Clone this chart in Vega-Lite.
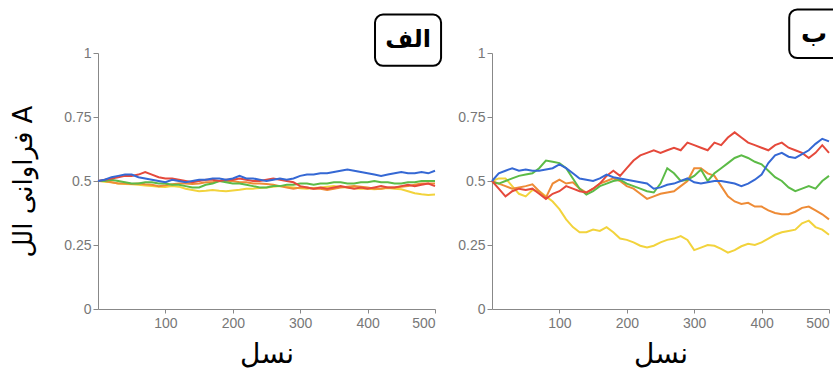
{
"$schema": "https://vega.github.io/schema/vega-lite/v6.json",
"padding": {"left": 10, "top": 8, "right": 0, "bottom": 0},
"spacing": 14,
"config": {
  "view": {"stroke": null},
  "axis": {"grid": false, "labelColor": "#777777", "labelFontSize": 14, "labelFont": "Liberation Sans", "domainColor": "#888888", "tickColor": "#888888", "tickSize": 5, "titleColor": "#000000", "titleFont": "DejaVu Sans", "titleFontWeight": "normal", "titleFontSize": 26}
},
"datasets": {
"left": [
{"run":"yellow","gen":0,"freq":0.5},{"run":"yellow","gen":10,"freq":0.497},{"run":"yellow","gen":20,"freq":0.495},{"run":"yellow","gen":30,"freq":0.49},{"run":"yellow","gen":40,"freq":0.488},{"run":"yellow","gen":50,"freq":0.487},{"run":"yellow","gen":60,"freq":0.485},{"run":"yellow","gen":70,"freq":0.482},{"run":"yellow","gen":80,"freq":0.48},{"run":"yellow","gen":90,"freq":0.478},{"run":"yellow","gen":100,"freq":0.477},{"run":"yellow","gen":110,"freq":0.48},{"run":"yellow","gen":120,"freq":0.478},{"run":"yellow","gen":130,"freq":0.47},{"run":"yellow","gen":140,"freq":0.465},{"run":"yellow","gen":150,"freq":0.46},{"run":"yellow","gen":160,"freq":0.462},{"run":"yellow","gen":170,"freq":0.465},{"run":"yellow","gen":180,"freq":0.462},{"run":"yellow","gen":190,"freq":0.46},{"run":"yellow","gen":200,"freq":0.463},{"run":"yellow","gen":210,"freq":0.466},{"run":"yellow","gen":220,"freq":0.47},{"run":"yellow","gen":230,"freq":0.47},{"run":"yellow","gen":240,"freq":0.473},{"run":"yellow","gen":250,"freq":0.475},{"run":"yellow","gen":260,"freq":0.478},{"run":"yellow","gen":270,"freq":0.48},{"run":"yellow","gen":280,"freq":0.478},{"run":"yellow","gen":290,"freq":0.475},{"run":"yellow","gen":300,"freq":0.472},{"run":"yellow","gen":310,"freq":0.47},{"run":"yellow","gen":320,"freq":0.473},{"run":"yellow","gen":330,"freq":0.475},{"run":"yellow","gen":340,"freq":0.478},{"run":"yellow","gen":350,"freq":0.48},{"run":"yellow","gen":360,"freq":0.477},{"run":"yellow","gen":370,"freq":0.475},{"run":"yellow","gen":380,"freq":0.472},{"run":"yellow","gen":390,"freq":0.47},{"run":"yellow","gen":400,"freq":0.47},{"run":"yellow","gen":410,"freq":0.468},{"run":"yellow","gen":420,"freq":0.47},{"run":"yellow","gen":430,"freq":0.473},{"run":"yellow","gen":440,"freq":0.47},{"run":"yellow","gen":450,"freq":0.468},{"run":"yellow","gen":460,"freq":0.46},{"run":"yellow","gen":470,"freq":0.452},{"run":"yellow","gen":480,"freq":0.448},{"run":"yellow","gen":490,"freq":0.445},{"run":"yellow","gen":500,"freq":0.447},
{"run":"orange","gen":0,"freq":0.5},{"run":"orange","gen":10,"freq":0.5},{"run":"orange","gen":20,"freq":0.495},{"run":"orange","gen":30,"freq":0.49},{"run":"orange","gen":40,"freq":0.49},{"run":"orange","gen":50,"freq":0.488},{"run":"orange","gen":60,"freq":0.49},{"run":"orange","gen":70,"freq":0.487},{"run":"orange","gen":80,"freq":0.485},{"run":"orange","gen":90,"freq":0.48},{"run":"orange","gen":100,"freq":0.483},{"run":"orange","gen":110,"freq":0.487},{"run":"orange","gen":120,"freq":0.49},{"run":"orange","gen":130,"freq":0.49},{"run":"orange","gen":140,"freq":0.488},{"run":"orange","gen":150,"freq":0.49},{"run":"orange","gen":160,"freq":0.495},{"run":"orange","gen":170,"freq":0.495},{"run":"orange","gen":180,"freq":0.5},{"run":"orange","gen":190,"freq":0.5},{"run":"orange","gen":200,"freq":0.5},{"run":"orange","gen":210,"freq":0.495},{"run":"orange","gen":220,"freq":0.495},{"run":"orange","gen":230,"freq":0.49},{"run":"orange","gen":240,"freq":0.49},{"run":"orange","gen":250,"freq":0.488},{"run":"orange","gen":260,"freq":0.485},{"run":"orange","gen":270,"freq":0.48},{"run":"orange","gen":280,"freq":0.475},{"run":"orange","gen":290,"freq":0.47},{"run":"orange","gen":300,"freq":0.475},{"run":"orange","gen":310,"freq":0.475},{"run":"orange","gen":320,"freq":0.47},{"run":"orange","gen":330,"freq":0.47},{"run":"orange","gen":340,"freq":0.465},{"run":"orange","gen":350,"freq":0.47},{"run":"orange","gen":360,"freq":0.475},{"run":"orange","gen":370,"freq":0.478},{"run":"orange","gen":380,"freq":0.48},{"run":"orange","gen":390,"freq":0.478},{"run":"orange","gen":400,"freq":0.475},{"run":"orange","gen":410,"freq":0.47},{"run":"orange","gen":420,"freq":0.47},{"run":"orange","gen":430,"freq":0.475},{"run":"orange","gen":440,"freq":0.475},{"run":"orange","gen":450,"freq":0.478},{"run":"orange","gen":460,"freq":0.48},{"run":"orange","gen":470,"freq":0.485},{"run":"orange","gen":480,"freq":0.49},{"run":"orange","gen":490,"freq":0.49},{"run":"orange","gen":500,"freq":0.49},
{"run":"green","gen":0,"freq":0.5},{"run":"green","gen":10,"freq":0.5},{"run":"green","gen":20,"freq":0.505},{"run":"green","gen":30,"freq":0.5},{"run":"green","gen":40,"freq":0.495},{"run":"green","gen":50,"freq":0.49},{"run":"green","gen":60,"freq":0.49},{"run":"green","gen":70,"freq":0.495},{"run":"green","gen":80,"freq":0.495},{"run":"green","gen":90,"freq":0.49},{"run":"green","gen":100,"freq":0.49},{"run":"green","gen":110,"freq":0.485},{"run":"green","gen":120,"freq":0.485},{"run":"green","gen":130,"freq":0.48},{"run":"green","gen":140,"freq":0.475},{"run":"green","gen":150,"freq":0.475},{"run":"green","gen":160,"freq":0.485},{"run":"green","gen":170,"freq":0.49},{"run":"green","gen":180,"freq":0.5},{"run":"green","gen":190,"freq":0.495},{"run":"green","gen":200,"freq":0.49},{"run":"green","gen":210,"freq":0.49},{"run":"green","gen":220,"freq":0.485},{"run":"green","gen":230,"freq":0.48},{"run":"green","gen":240,"freq":0.475},{"run":"green","gen":250,"freq":0.475},{"run":"green","gen":260,"freq":0.48},{"run":"green","gen":270,"freq":0.48},{"run":"green","gen":280,"freq":0.485},{"run":"green","gen":290,"freq":0.485},{"run":"green","gen":300,"freq":0.49},{"run":"green","gen":310,"freq":0.49},{"run":"green","gen":320,"freq":0.485},{"run":"green","gen":330,"freq":0.49},{"run":"green","gen":340,"freq":0.49},{"run":"green","gen":350,"freq":0.495},{"run":"green","gen":360,"freq":0.495},{"run":"green","gen":370,"freq":0.49},{"run":"green","gen":380,"freq":0.49},{"run":"green","gen":390,"freq":0.495},{"run":"green","gen":400,"freq":0.495},{"run":"green","gen":410,"freq":0.5},{"run":"green","gen":420,"freq":0.495},{"run":"green","gen":430,"freq":0.495},{"run":"green","gen":440,"freq":0.49},{"run":"green","gen":450,"freq":0.49},{"run":"green","gen":460,"freq":0.495},{"run":"green","gen":470,"freq":0.495},{"run":"green","gen":480,"freq":0.5},{"run":"green","gen":490,"freq":0.5},{"run":"green","gen":500,"freq":0.5},
{"run":"red","gen":0,"freq":0.5},{"run":"red","gen":10,"freq":0.505},{"run":"red","gen":20,"freq":0.51},{"run":"red","gen":30,"freq":0.515},{"run":"red","gen":40,"freq":0.52},{"run":"red","gen":50,"freq":0.52},{"run":"red","gen":60,"freq":0.525},{"run":"red","gen":70,"freq":0.535},{"run":"red","gen":80,"freq":0.525},{"run":"red","gen":90,"freq":0.515},{"run":"red","gen":100,"freq":0.51},{"run":"red","gen":110,"freq":0.51},{"run":"red","gen":120,"freq":0.505},{"run":"red","gen":130,"freq":0.5},{"run":"red","gen":140,"freq":0.495},{"run":"red","gen":150,"freq":0.5},{"run":"red","gen":160,"freq":0.505},{"run":"red","gen":170,"freq":0.505},{"run":"red","gen":180,"freq":0.5},{"run":"red","gen":190,"freq":0.505},{"run":"red","gen":200,"freq":0.505},{"run":"red","gen":210,"freq":0.51},{"run":"red","gen":220,"freq":0.505},{"run":"red","gen":230,"freq":0.5},{"run":"red","gen":240,"freq":0.5},{"run":"red","gen":250,"freq":0.505},{"run":"red","gen":260,"freq":0.51},{"run":"red","gen":270,"freq":0.505},{"run":"red","gen":280,"freq":0.5},{"run":"red","gen":290,"freq":0.495},{"run":"red","gen":300,"freq":0.48},{"run":"red","gen":310,"freq":0.475},{"run":"red","gen":320,"freq":0.47},{"run":"red","gen":330,"freq":0.475},{"run":"red","gen":340,"freq":0.47},{"run":"red","gen":350,"freq":0.475},{"run":"red","gen":360,"freq":0.48},{"run":"red","gen":370,"freq":0.475},{"run":"red","gen":380,"freq":0.47},{"run":"red","gen":390,"freq":0.475},{"run":"red","gen":400,"freq":0.47},{"run":"red","gen":410,"freq":0.475},{"run":"red","gen":420,"freq":0.48},{"run":"red","gen":430,"freq":0.475},{"run":"red","gen":440,"freq":0.475},{"run":"red","gen":450,"freq":0.48},{"run":"red","gen":460,"freq":0.485},{"run":"red","gen":470,"freq":0.48},{"run":"red","gen":480,"freq":0.485},{"run":"red","gen":490,"freq":0.49},{"run":"red","gen":500,"freq":0.48},
{"run":"blue","gen":0,"freq":0.5},{"run":"blue","gen":10,"freq":0.505},{"run":"blue","gen":20,"freq":0.515},{"run":"blue","gen":30,"freq":0.52},{"run":"blue","gen":40,"freq":0.525},{"run":"blue","gen":50,"freq":0.525},{"run":"blue","gen":60,"freq":0.515},{"run":"blue","gen":70,"freq":0.51},{"run":"blue","gen":80,"freq":0.505},{"run":"blue","gen":90,"freq":0.5},{"run":"blue","gen":100,"freq":0.495},{"run":"blue","gen":110,"freq":0.505},{"run":"blue","gen":120,"freq":0.5},{"run":"blue","gen":130,"freq":0.495},{"run":"blue","gen":140,"freq":0.5},{"run":"blue","gen":150,"freq":0.505},{"run":"blue","gen":160,"freq":0.505},{"run":"blue","gen":170,"freq":0.51},{"run":"blue","gen":180,"freq":0.51},{"run":"blue","gen":190,"freq":0.505},{"run":"blue","gen":200,"freq":0.51},{"run":"blue","gen":210,"freq":0.52},{"run":"blue","gen":220,"freq":0.51},{"run":"blue","gen":230,"freq":0.51},{"run":"blue","gen":240,"freq":0.505},{"run":"blue","gen":250,"freq":0.5},{"run":"blue","gen":260,"freq":0.505},{"run":"blue","gen":270,"freq":0.51},{"run":"blue","gen":280,"freq":0.505},{"run":"blue","gen":290,"freq":0.51},{"run":"blue","gen":300,"freq":0.52},{"run":"blue","gen":310,"freq":0.525},{"run":"blue","gen":320,"freq":0.525},{"run":"blue","gen":330,"freq":0.53},{"run":"blue","gen":340,"freq":0.53},{"run":"blue","gen":350,"freq":0.535},{"run":"blue","gen":360,"freq":0.54},{"run":"blue","gen":370,"freq":0.545},{"run":"blue","gen":380,"freq":0.54},{"run":"blue","gen":390,"freq":0.535},{"run":"blue","gen":400,"freq":0.53},{"run":"blue","gen":410,"freq":0.525},{"run":"blue","gen":420,"freq":0.52},{"run":"blue","gen":430,"freq":0.525},{"run":"blue","gen":440,"freq":0.53},{"run":"blue","gen":450,"freq":0.535},{"run":"blue","gen":460,"freq":0.53},{"run":"blue","gen":470,"freq":0.53},{"run":"blue","gen":480,"freq":0.535},{"run":"blue","gen":490,"freq":0.53},{"run":"blue","gen":500,"freq":0.54}
],
"right": [
{"run":"yellow","gen":0,"freq":0.5},{"run":"yellow","gen":10,"freq":0.51},{"run":"yellow","gen":20,"freq":0.51},{"run":"yellow","gen":30,"freq":0.48},{"run":"yellow","gen":40,"freq":0.45},{"run":"yellow","gen":50,"freq":0.44},{"run":"yellow","gen":60,"freq":0.465},{"run":"yellow","gen":70,"freq":0.46},{"run":"yellow","gen":80,"freq":0.44},{"run":"yellow","gen":90,"freq":0.42},{"run":"yellow","gen":100,"freq":0.39},{"run":"yellow","gen":110,"freq":0.35},{"run":"yellow","gen":120,"freq":0.32},{"run":"yellow","gen":130,"freq":0.3},{"run":"yellow","gen":140,"freq":0.3},{"run":"yellow","gen":150,"freq":0.31},{"run":"yellow","gen":160,"freq":0.305},{"run":"yellow","gen":170,"freq":0.32},{"run":"yellow","gen":180,"freq":0.3},{"run":"yellow","gen":190,"freq":0.275},{"run":"yellow","gen":200,"freq":0.27},{"run":"yellow","gen":210,"freq":0.26},{"run":"yellow","gen":220,"freq":0.247},{"run":"yellow","gen":230,"freq":0.24},{"run":"yellow","gen":240,"freq":0.247},{"run":"yellow","gen":250,"freq":0.26},{"run":"yellow","gen":260,"freq":0.27},{"run":"yellow","gen":270,"freq":0.275},{"run":"yellow","gen":280,"freq":0.285},{"run":"yellow","gen":290,"freq":0.27},{"run":"yellow","gen":300,"freq":0.23},{"run":"yellow","gen":310,"freq":0.24},{"run":"yellow","gen":320,"freq":0.25},{"run":"yellow","gen":330,"freq":0.247},{"run":"yellow","gen":340,"freq":0.235},{"run":"yellow","gen":350,"freq":0.22},{"run":"yellow","gen":360,"freq":0.23},{"run":"yellow","gen":370,"freq":0.245},{"run":"yellow","gen":380,"freq":0.255},{"run":"yellow","gen":390,"freq":0.25},{"run":"yellow","gen":400,"freq":0.26},{"run":"yellow","gen":410,"freq":0.275},{"run":"yellow","gen":420,"freq":0.29},{"run":"yellow","gen":430,"freq":0.3},{"run":"yellow","gen":440,"freq":0.305},{"run":"yellow","gen":450,"freq":0.31},{"run":"yellow","gen":460,"freq":0.335},{"run":"yellow","gen":470,"freq":0.345},{"run":"yellow","gen":480,"freq":0.32},{"run":"yellow","gen":490,"freq":0.31},{"run":"yellow","gen":500,"freq":0.29},
{"run":"orange","gen":0,"freq":0.5},{"run":"orange","gen":10,"freq":0.49},{"run":"orange","gen":20,"freq":0.48},{"run":"orange","gen":30,"freq":0.47},{"run":"orange","gen":40,"freq":0.475},{"run":"orange","gen":50,"freq":0.48},{"run":"orange","gen":60,"freq":0.487},{"run":"orange","gen":70,"freq":0.46},{"run":"orange","gen":80,"freq":0.435},{"run":"orange","gen":90,"freq":0.49},{"run":"orange","gen":100,"freq":0.505},{"run":"orange","gen":110,"freq":0.49},{"run":"orange","gen":120,"freq":0.495},{"run":"orange","gen":130,"freq":0.47},{"run":"orange","gen":140,"freq":0.455},{"run":"orange","gen":150,"freq":0.47},{"run":"orange","gen":160,"freq":0.49},{"run":"orange","gen":170,"freq":0.5},{"run":"orange","gen":180,"freq":0.51},{"run":"orange","gen":190,"freq":0.5},{"run":"orange","gen":200,"freq":0.48},{"run":"orange","gen":210,"freq":0.47},{"run":"orange","gen":220,"freq":0.45},{"run":"orange","gen":230,"freq":0.43},{"run":"orange","gen":240,"freq":0.44},{"run":"orange","gen":250,"freq":0.45},{"run":"orange","gen":260,"freq":0.455},{"run":"orange","gen":270,"freq":0.46},{"run":"orange","gen":280,"freq":0.48},{"run":"orange","gen":290,"freq":0.5},{"run":"orange","gen":300,"freq":0.55},{"run":"orange","gen":310,"freq":0.55},{"run":"orange","gen":320,"freq":0.53},{"run":"orange","gen":330,"freq":0.52},{"run":"orange","gen":340,"freq":0.48},{"run":"orange","gen":350,"freq":0.44},{"run":"orange","gen":360,"freq":0.42},{"run":"orange","gen":370,"freq":0.41},{"run":"orange","gen":380,"freq":0.415},{"run":"orange","gen":390,"freq":0.4},{"run":"orange","gen":400,"freq":0.4},{"run":"orange","gen":410,"freq":0.385},{"run":"orange","gen":420,"freq":0.375},{"run":"orange","gen":430,"freq":0.37},{"run":"orange","gen":440,"freq":0.37},{"run":"orange","gen":450,"freq":0.38},{"run":"orange","gen":460,"freq":0.395},{"run":"orange","gen":470,"freq":0.4},{"run":"orange","gen":480,"freq":0.385},{"run":"orange","gen":490,"freq":0.37},{"run":"orange","gen":500,"freq":0.35},
{"run":"green","gen":0,"freq":0.495},{"run":"green","gen":10,"freq":0.49},{"run":"green","gen":20,"freq":0.5},{"run":"green","gen":30,"freq":0.51},{"run":"green","gen":40,"freq":0.52},{"run":"green","gen":50,"freq":0.525},{"run":"green","gen":60,"freq":0.53},{"run":"green","gen":70,"freq":0.55},{"run":"green","gen":80,"freq":0.58},{"run":"green","gen":90,"freq":0.575},{"run":"green","gen":100,"freq":0.57},{"run":"green","gen":110,"freq":0.55},{"run":"green","gen":120,"freq":0.51},{"run":"green","gen":130,"freq":0.47},{"run":"green","gen":140,"freq":0.447},{"run":"green","gen":150,"freq":0.46},{"run":"green","gen":160,"freq":0.48},{"run":"green","gen":170,"freq":0.49},{"run":"green","gen":180,"freq":0.5},{"run":"green","gen":190,"freq":0.505},{"run":"green","gen":200,"freq":0.49},{"run":"green","gen":210,"freq":0.48},{"run":"green","gen":220,"freq":0.47},{"run":"green","gen":230,"freq":0.46},{"run":"green","gen":240,"freq":0.455},{"run":"green","gen":250,"freq":0.49},{"run":"green","gen":260,"freq":0.55},{"run":"green","gen":270,"freq":0.53},{"run":"green","gen":280,"freq":0.5},{"run":"green","gen":290,"freq":0.505},{"run":"green","gen":300,"freq":0.52},{"run":"green","gen":310,"freq":0.545},{"run":"green","gen":320,"freq":0.5},{"run":"green","gen":330,"freq":0.53},{"run":"green","gen":340,"freq":0.55},{"run":"green","gen":350,"freq":0.57},{"run":"green","gen":360,"freq":0.59},{"run":"green","gen":370,"freq":0.6},{"run":"green","gen":380,"freq":0.59},{"run":"green","gen":390,"freq":0.575},{"run":"green","gen":400,"freq":0.565},{"run":"green","gen":410,"freq":0.54},{"run":"green","gen":420,"freq":0.515},{"run":"green","gen":430,"freq":0.5},{"run":"green","gen":440,"freq":0.475},{"run":"green","gen":450,"freq":0.46},{"run":"green","gen":460,"freq":0.47},{"run":"green","gen":470,"freq":0.48},{"run":"green","gen":480,"freq":0.47},{"run":"green","gen":490,"freq":0.5},{"run":"green","gen":500,"freq":0.52},
{"run":"red","gen":0,"freq":0.5},{"run":"red","gen":10,"freq":0.47},{"run":"red","gen":20,"freq":0.44},{"run":"red","gen":30,"freq":0.46},{"run":"red","gen":40,"freq":0.47},{"run":"red","gen":50,"freq":0.465},{"run":"red","gen":60,"freq":0.47},{"run":"red","gen":70,"freq":0.45},{"run":"red","gen":80,"freq":0.43},{"run":"red","gen":90,"freq":0.45},{"run":"red","gen":100,"freq":0.46},{"run":"red","gen":110,"freq":0.48},{"run":"red","gen":120,"freq":0.47},{"run":"red","gen":130,"freq":0.46},{"run":"red","gen":140,"freq":0.455},{"run":"red","gen":150,"freq":0.47},{"run":"red","gen":160,"freq":0.49},{"run":"red","gen":170,"freq":0.52},{"run":"red","gen":180,"freq":0.54},{"run":"red","gen":190,"freq":0.52},{"run":"red","gen":200,"freq":0.55},{"run":"red","gen":210,"freq":0.58},{"run":"red","gen":220,"freq":0.6},{"run":"red","gen":230,"freq":0.61},{"run":"red","gen":240,"freq":0.62},{"run":"red","gen":250,"freq":0.61},{"run":"red","gen":260,"freq":0.62},{"run":"red","gen":270,"freq":0.63},{"run":"red","gen":280,"freq":0.62},{"run":"red","gen":290,"freq":0.65},{"run":"red","gen":300,"freq":0.64},{"run":"red","gen":310,"freq":0.63},{"run":"red","gen":320,"freq":0.62},{"run":"red","gen":330,"freq":0.65},{"run":"red","gen":340,"freq":0.64},{"run":"red","gen":350,"freq":0.67},{"run":"red","gen":360,"freq":0.69},{"run":"red","gen":370,"freq":0.67},{"run":"red","gen":380,"freq":0.65},{"run":"red","gen":390,"freq":0.64},{"run":"red","gen":400,"freq":0.63},{"run":"red","gen":410,"freq":0.62},{"run":"red","gen":420,"freq":0.64},{"run":"red","gen":430,"freq":0.65},{"run":"red","gen":440,"freq":0.63},{"run":"red","gen":450,"freq":0.62},{"run":"red","gen":460,"freq":0.61},{"run":"red","gen":470,"freq":0.59},{"run":"red","gen":480,"freq":0.61},{"run":"red","gen":490,"freq":0.64},{"run":"red","gen":500,"freq":0.61},
{"run":"blue","gen":0,"freq":0.5},{"run":"blue","gen":10,"freq":0.53},{"run":"blue","gen":20,"freq":0.54},{"run":"blue","gen":30,"freq":0.55},{"run":"blue","gen":40,"freq":0.54},{"run":"blue","gen":50,"freq":0.545},{"run":"blue","gen":60,"freq":0.54},{"run":"blue","gen":70,"freq":0.54},{"run":"blue","gen":80,"freq":0.545},{"run":"blue","gen":90,"freq":0.55},{"run":"blue","gen":100,"freq":0.565},{"run":"blue","gen":110,"freq":0.55},{"run":"blue","gen":120,"freq":0.53},{"run":"blue","gen":130,"freq":0.51},{"run":"blue","gen":140,"freq":0.505},{"run":"blue","gen":150,"freq":0.5},{"run":"blue","gen":160,"freq":0.51},{"run":"blue","gen":170,"freq":0.525},{"run":"blue","gen":180,"freq":0.515},{"run":"blue","gen":190,"freq":0.51},{"run":"blue","gen":200,"freq":0.505},{"run":"blue","gen":210,"freq":0.5},{"run":"blue","gen":220,"freq":0.495},{"run":"blue","gen":230,"freq":0.49},{"run":"blue","gen":240,"freq":0.47},{"run":"blue","gen":250,"freq":0.475},{"run":"blue","gen":260,"freq":0.485},{"run":"blue","gen":270,"freq":0.49},{"run":"blue","gen":280,"freq":0.5},{"run":"blue","gen":290,"freq":0.51},{"run":"blue","gen":300,"freq":0.495},{"run":"blue","gen":310,"freq":0.49},{"run":"blue","gen":320,"freq":0.495},{"run":"blue","gen":330,"freq":0.5},{"run":"blue","gen":340,"freq":0.5},{"run":"blue","gen":350,"freq":0.495},{"run":"blue","gen":360,"freq":0.49},{"run":"blue","gen":370,"freq":0.48},{"run":"blue","gen":380,"freq":0.49},{"run":"blue","gen":390,"freq":0.505},{"run":"blue","gen":400,"freq":0.525},{"run":"blue","gen":410,"freq":0.57},{"run":"blue","gen":420,"freq":0.6},{"run":"blue","gen":430,"freq":0.61},{"run":"blue","gen":440,"freq":0.595},{"run":"blue","gen":450,"freq":0.59},{"run":"blue","gen":460,"freq":0.605},{"run":"blue","gen":470,"freq":0.62},{"run":"blue","gen":480,"freq":0.645},{"run":"blue","gen":490,"freq":0.665},{"run":"blue","gen":500,"freq":0.655}
]
},
"hconcat": [
{
 "width": 337, "height": 256,
 "layer": [
  {"data": {"name": "left"},
   "mark": {"type": "line", "strokeWidth": 2},
   "encoding": {
    "x": {"field": "gen", "type": "quantitative", "scale": {"domain": [0, 500], "nice": false}, "axis": {"values": [100, 200, 300, 400, 500], "title": "نسل", "titleFontSize": 28, "titlePadding": 10, "labelPadding": 3, "tickSize": 4}},
    "y": {"field": "freq", "type": "quantitative", "scale": {"domain": [0, 1], "nice": false}, "axis": {"values": [0, 0.25, 0.5, 0.75, 1], "format": ".2~f", "title": "فراوانی الل A", "titlePadding": 27}},
    "color": {"field": "run", "type": "nominal", "legend": null, "scale": {"domain": ["yellow", "orange", "green", "red", "blue"], "range": ["#f2d33c", "#ee8b36", "#5cbb47", "#e5493b", "#3568d4"]}}
   }},
  {"data": {"values": [{"label": "الف"}]},
   "mark": {"type": "rect", "fill": "white", "stroke": "black", "strokeWidth": 2, "cornerRadius": 8, "clip": false},
   "encoding": {"x": {"datum": 411}, "x2": {"datum": 509}, "y": {"datum": 0.95}, "y2": {"datum": 1.15}}},
  {"data": {"values": [{"label": "الف"}]},
   "mark": {"type": "text", "font": "DejaVu Sans", "fontSize": 24, "fontWeight": "bold", "align": "center", "baseline": "middle", "color": "black"},
   "encoding": {"x": {"datum": 460}, "y": {"datum": 1.05}, "text": {"field": "label"}}}
 ]
},
{
 "width": 337, "height": 256,
 "layer": [
  {"data": {"name": "right"},
   "mark": {"type": "line", "strokeWidth": 2},
   "encoding": {
    "x": {"field": "gen", "type": "quantitative", "scale": {"domain": [0, 500], "nice": false}, "axis": {"values": [100, 200, 300, 400, 500], "title": "نسل", "titleFontSize": 28, "titlePadding": 10, "labelPadding": 3, "tickSize": 4}},
    "y": {"field": "freq", "type": "quantitative", "scale": {"domain": [0, 1], "nice": false}, "axis": {"values": [0, 0.25, 0.5, 0.75, 1], "format": ".2~f", "title": null}},
    "color": {"field": "run", "type": "nominal", "legend": null, "scale": {"domain": ["yellow", "orange", "green", "red", "blue"], "range": ["#f2d33c", "#ee8b36", "#5cbb47", "#e5493b", "#3568d4"]}}
   }},
  {"data": {"values": [{"label": "ب"}]},
   "mark": {"type": "rect", "fill": "white", "stroke": "black", "strokeWidth": 2, "cornerRadius": 8, "clip": false},
   "encoding": {"x": {"datum": 441}, "x2": {"datum": 530}, "y": {"datum": 0.98}, "y2": {"datum": 1.17}}},
  {"data": {"values": [{"label": "ب"}]},
   "mark": {"type": "text", "font": "DejaVu Sans", "fontSize": 26, "fontWeight": "bold", "align": "center", "baseline": "middle", "color": "black"},
   "encoding": {"x": {"datum": 478}, "y": {"datum": 1.075}, "text": {"field": "label"}}}
 ]
}
]
}
